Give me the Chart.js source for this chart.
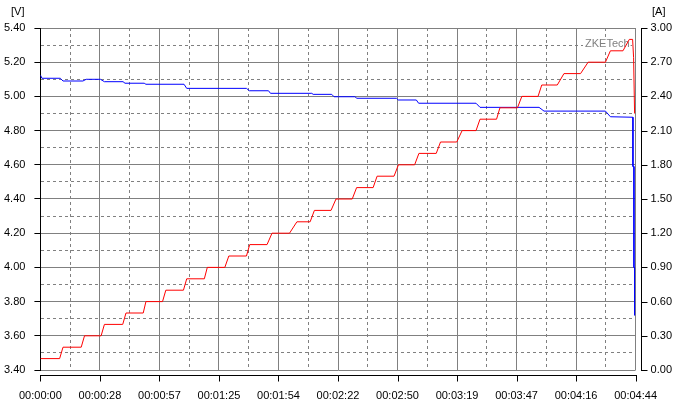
<!DOCTYPE html>
<html>
<head>
<meta charset="utf-8">
<script src="https://cdn.jsdelivr.net/npm/chart.js@4.4.1/dist/chart.umd.min.js"></script>
<style>
html,body{margin:0;padding:0;background:#fff;}
canvas{display:block;}
</style>
</head>
<body>
<canvas id="c" width="676" height="403"></canvas>
<script>
// ---- data ----
const xTickLabels = ['00:00:00','00:00:28','00:00:57','00:01:25','00:01:54','00:02:22','00:02:50','00:03:19','00:03:47','00:04:16','00:04:44'];
const voltTickLabels = ['3.40','3.60','3.80','4.00','4.20','4.40','4.60','4.80','5.00','5.20','5.40'];
const ampTickLabels = ['0.00','0.30','0.60','0.90','1.20','1.50','1.80','2.10','2.40','2.70','3.00'];

const timeMin = 0, timeMax = 284;
const voltMin = 3.4, voltMax = 5.4;
const ampMin = 0, ampMax = 3;

const voltTime = [0,0.71,9.50,10.78,20.28,21.85,28.64,30.54,39.42,40.37,49.53,50.34,68.53,69.81,98.31,99.73,108.83,109.79,129.51,130.13,139.01,140.11,150.06,151.01,169.88,170.73,179.38,180.47,207.87,209.77,237.93,240.30,269.61,271.98,282.72,282.74,283.20,283.22,283.50,283.52];
const voltValue = [5.125,5.106,5.106,5.090,5.090,5.100,5.100,5.086,5.086,5.077,5.077,5.071,5.071,5.047,5.047,5.033,5.033,5.018,5.018,5.012,5.012,4.998,4.998,4.989,4.989,4.979,4.979,4.960,4.960,4.936,4.936,4.914,4.914,4.881,4.878,4.590,4.590,4.000,4.000,3.720];

const currTime = [0,9.17,10.78,19.47,21.04,28.97,30.54,39.28,40.84,49.06,50.34,58.27,59.84,68.25,69.81,78.22,79.64,88.00,89.90,98.31,99.87,108.14,110.51,118.87,122.39,128.70,130.74,138.67,141.05,148.79,150.88,158.76,160.66,168.74,170.83,178.57,180.61,188.87,190.92,198.66,201.22,207.87,209.77,217.66,219.27,227.63,229.72,237.46,239.22,246.63,249.81,257.74,261.35,269.61,271.98,277.97,281.01,282.58,283.05,283.52];
const currValue = [0.1,0.1,0.2,0.2,0.3,0.3,0.4,0.4,0.5,0.5,0.6,0.6,0.7,0.7,0.8,0.8,0.9,0.9,1.0,1.0,1.1,1.1,1.2,1.2,1.3,1.3,1.4,1.4,1.5,1.5,1.6,1.6,1.7,1.7,1.8,1.8,1.9,1.9,2.0,2.0,2.1,2.1,2.2,2.2,2.3,2.3,2.4,2.4,2.5,2.5,2.6,2.6,2.7,2.7,2.8,2.8,2.9,2.9,2.74,2.25];

// ---- styling ----
const FONT = 'Arial, "Liberation Sans", sans-serif';
const GRID = '#808080';
Chart.defaults.font.family = FONT;
Chart.defaults.font.size = 11;
Chart.defaults.color = '#000';

const dashMinor = (ctx) => (ctx.index % 2 === 1 ? [3, 3] : []);

function subTicks(min, max, n) {
  const out = [];
  for (let i = 0; i <= n; i++) out.push({ value: +(min + (max - min) * i / n).toFixed(6) });
  return out;
}

const deco = {
  id: 'deco',
  beforeDatasetsDraw(chart) {
    const ctx = chart.ctx;
    ctx.save();
    ctx.font = '11px ' + FONT;
    const w = ctx.measureText('ZKETech').width;
    ctx.fillStyle = '#fff';
    ctx.fillRect(583, 37, w + 3, 13);
    ctx.fillStyle = '#808080';
    ctx.textBaseline = 'alphabetic';
    ctx.fillText('ZKETech', 585, 47);
    ctx.restore();
  },
  afterDraw(chart) {
    const ctx = chart.ctx, a = chart.chartArea, xs = chart.scales.x, ys = chart.scales.y1;
    ctx.save();
    ctx.strokeStyle = '#000';
    ctx.lineWidth = 1;
    ctx.setLineDash([]);
    ctx.beginPath();
    const by = Math.round(a.bottom) + 5.5;
    ctx.moveTo(Math.round(a.left), by);
    ctx.lineTo(Math.round(a.right) + 1, by);
    xs.ticks.forEach((t, i) => {
      if (i % 2) return;
      const px = Math.round(xs.getPixelForValue(t.value)) + 0.5;
      ctx.moveTo(px, by);
      ctx.lineTo(px, by + 6);
    });
    const rx = Math.round(a.right) + 5.5;
    ctx.moveTo(rx, Math.round(a.top));
    ctx.lineTo(rx, Math.round(a.bottom) + 1);
    ys.ticks.forEach((t, i) => {
      if (i % 2) return;
      const py = Math.round(ys.getPixelForValue(t.value)) + 0.5;
      ctx.moveTo(rx, py);
      ctx.lineTo(rx + 6, py);
    });
    ctx.stroke();
    ctx.fillStyle = '#000';
    ctx.font = '11px ' + FONT;
    ctx.textBaseline = 'alphabetic';
    ctx.fillText('[V]', 11, 15);
    ctx.fillText('[A]', 652, 15);
    ctx.restore();
  }
};

new Chart(document.getElementById('c'), {
  type: 'line',
  data: {
    datasets: [
      {
        label: 'Current',
        yAxisID: 'y1',
        order: 0,
        data: currTime.map((t, i) => ({ x: t, y: currValue[i] })),
        borderColor: '#ff0000',
        borderWidth: 1,
        pointRadius: 0,
        tension: 0,
        fill: false
      },
      {
        label: 'Voltage',
        yAxisID: 'y',
        order: 1,
        data: voltTime.map((t, i) => ({ x: t, y: voltValue[i] })),
        borderColor: '#0000ff',
        borderWidth: 1,
        pointRadius: 0,
        tension: 0,
        fill: false
      }
    ]
  },
  options: {
    responsive: false,
    animation: false,
    events: [],
    layout: { padding: { top: 28, left: 0, right: 0, bottom: 0 } },
    plugins: { legend: { display: false }, tooltip: { enabled: false } },
    scales: {
      x: {
        type: 'linear',
        position: 'bottom',
        min: timeMin,
        max: timeMax,
        afterBuildTicks: (s) => { s.ticks = subTicks(timeMin, timeMax, 20); },
        afterFit: (s) => { s.height = 33; },
        ticks: {
          autoSkip: false,
          maxRotation: 0,
          padding: 19,
          color: '#000',
          callback: (v, i) => (i % 2 === 0 ? xTickLabels[i / 2] : '')
        },
        grid: { color: GRID, lineWidth: 1, drawTicks: false },
        border: { display: false, dash: dashMinor }
      },
      y: {
        type: 'linear',
        position: 'left',
        min: voltMin,
        max: voltMax,
        afterBuildTicks: (s) => { s.ticks = subTicks(voltMin, voltMax, 20); },
        afterFit: (s) => { s.width = 39; },
        ticks: {
          autoSkip: false,
          padding: 9,
          color: '#000',
          callback: (v, i) => (i % 2 === 0 ? voltTickLabels[i / 2] : '')
        },
        grid: {
          color: GRID,
          lineWidth: 1,
          drawTicks: true,
          tickLength: 6,
          tickColor: (ctx) => (ctx.index % 2 === 1 ? 'rgba(0,0,0,0)' : '#000')
        },
        border: { display: true, color: '#000', width: 1, dash: dashMinor }
      },
      y1: {
        type: 'linear',
        position: 'right',
        min: ampMin,
        max: ampMax,
        afterBuildTicks: (s) => { s.ticks = subTicks(ampMin, ampMax, 20); },
        afterFit: (s) => { s.width = 39; },
        ticks: {
          autoSkip: false,
          padding: 15,
          color: '#000',
          callback: (v, i) => (i % 2 === 0 ? ampTickLabels[i / 2] : '')
        },
        grid: { drawOnChartArea: false, drawTicks: false },
        border: { display: false }
      }
    }
  },
  plugins: [deco]
});
</script>
</body>
</html>
